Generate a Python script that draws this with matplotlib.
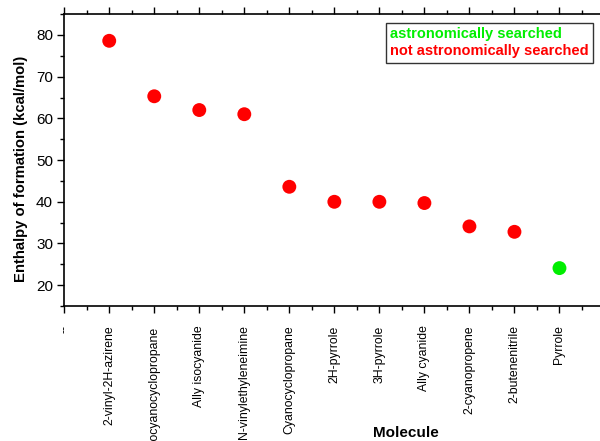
import matplotlib
matplotlib.use("Agg")
from matplotlib import pyplot as plt
from matplotlib.ticker import MultipleLocator
from matplotlib.lines import Line2D

plt.rcParams['font.family'] = ['Liberation Sans', 'DejaVu Sans']

molecules = ['--', '2-vinyl-2H-azirene', 'Isocyanocyclopropane', 'Ally isocyanide',
             'N-vinylethyleneimine', 'Cyanocyclopropane', '2H-pyrrole', '3H-pyrrole',
             'Ally cyanide', '2-cyanopropene', '2-butenenitrile', 'Pyrrole']
enthalpy = [None, 78.6, 65.3, 62.0, 61.0, 43.6, 40.0, 40.0, 39.7, 34.1, 32.8, 24.1]
searched = [False, False, False, False, False, False, False, False, False, False, False, True]

fig = plt.figure(figsize=(6.0, 4.41), dpi=100)
ax = fig.add_axes([0.107, 0.306, 0.893, 0.662])

xs = [i for i in range(len(molecules)) if enthalpy[i] is not None]
ys = [enthalpy[i] for i in xs]
cols = ['#00ee00' if searched[i] else '#ff0000' for i in xs]
ax.scatter(xs, ys, c=cols, s=100, marker='o', edgecolors='none', zorder=3)

ax.set_xlim(0, 11.9)
ax.set_ylim(15, 85)
ax.set_xticks(range(len(molecules)))
ax.set_xticklabels(molecules, rotation=90, fontsize=8.8, va='top')
ax.xaxis.set_minor_locator(MultipleLocator(0.5))
ax.yaxis.set_minor_locator(MultipleLocator(5))
ax.set_yticks([20, 30, 40, 50, 60, 70, 80])
ax.tick_params(axis='y', labelsize=11)
ax.tick_params(which='major', direction='out', length=5, width=1, top=True, pad=3)
ax.tick_params(which='minor', direction='out', length=3, width=1, top=True)
ax.tick_params(axis='x', which='major', pad=9)

ax.spines['right'].set_visible(False)
for s in ['left', 'bottom', 'top']:
    ax.spines[s].set_linewidth(1.2)

ax.set_ylabel('Enthalpy of formation (kcal/mol)', fontsize=10.7, fontweight='bold')
ax.yaxis.set_label_coords(-0.068, 0.47)
fig.text(0.677, 0.018, 'Molecule', fontsize=11, fontweight='bold', ha='center', va='center')

handles = [Line2D([], [], linestyle='none'), Line2D([], [], linestyle='none')]
leg = ax.legend(handles, ['astronomically searched', 'not astronomically searched'],
                loc='upper right', bbox_to_anchor=(593 / 600, 1 - 23 / 441),
                bbox_transform=fig.transFigure, handlelength=0, handletextpad=0,
                frameon=True, fancybox=False, edgecolor='black',
                prop={'weight': 'bold', 'size': 10.5}, borderpad=0.3, labelspacing=0.2,
                borderaxespad=0)
leg.get_frame().set_linewidth(1.0)
for t, c in zip(leg.get_texts(), ['#00ee00', '#ff0000']):
    t.set_color(c)

fig.savefig('out.png', dpi=100)
